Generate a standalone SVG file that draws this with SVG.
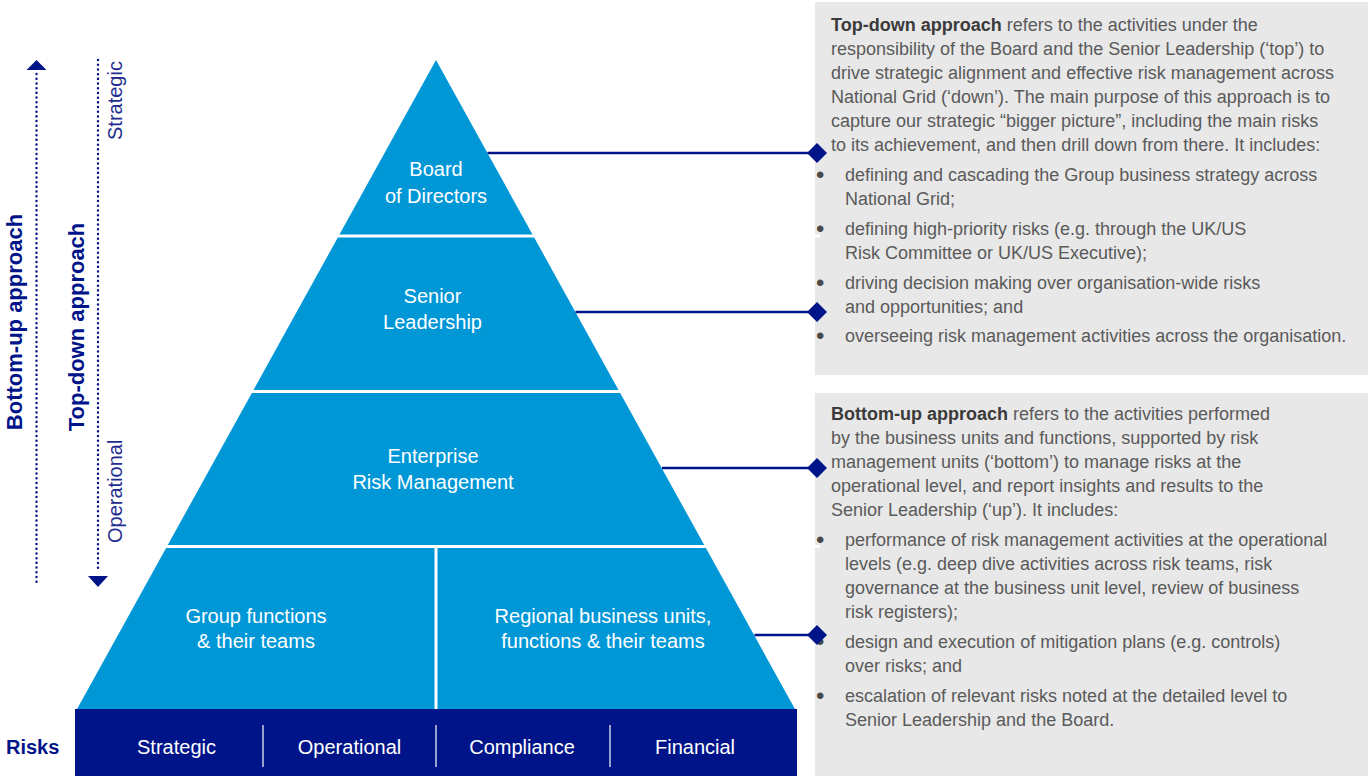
<svg xmlns="http://www.w3.org/2000/svg" width="1368" height="776" viewBox="0 0 1368 776">
<style>
.box{fill:#e8e8e8}
.tier{fill:#0097d7}
.gap{stroke:#ffffff;stroke-width:3;fill:none}
.plab{font-family:"Liberation Sans",Arial,sans-serif;font-size:20px;fill:#ffffff;text-anchor:middle}
.blab{font-family:"Liberation Sans",Arial,sans-serif;font-size:20px;fill:#ffffff;text-anchor:middle}
.navybold{font-family:"Liberation Sans",Arial,sans-serif;font-size:22px;font-weight:bold;fill:#001489;text-anchor:middle}
.navylight{font-family:"Liberation Sans",Arial,sans-serif;font-size:20px;fill:#1f2d8f}
.dots{stroke:#001489;stroke-width:2.4;stroke-linecap:round;stroke-dasharray:0.1 4.6;fill:none}
.conn{stroke:#001489;stroke-width:2.7;fill:none}
.dia{fill:#001489}
.body{font-family:"Liberation Sans",Arial,sans-serif;font-size:18px;fill:#5a5a5a}
.body tspan.b{font-weight:bold;fill:#3a3a3a}
.body tspan.bul{font-size:24px;fill:#4a4a4a}
</style>

<g id="topdown-box">
<rect class="box" x="815" y="2" width="553" height="373"/>
<text class="body">
<tspan x="831" y="31"><tspan class="b">Top-down approach</tspan> refers to the activities under the</tspan>
<tspan x="831" y="55">responsibility of the Board and the Senior Leadership (‘top’) to</tspan>
<tspan x="831" y="79">drive strategic alignment and effective risk management across</tspan>
<tspan x="831" y="103">National Grid (‘down’). The main purpose of this approach is to</tspan>
<tspan x="831" y="127">capture our strategic “bigger picture”, including the main risks</tspan>
<tspan x="831" y="151">to its achievement, and then drill down from there. It includes:</tspan>
<tspan class="bul" x="816" y="183">•</tspan><tspan x="845" y="181">defining and cascading the Group business strategy across</tspan>
<tspan x="845" y="205">National Grid;</tspan>
<tspan class="bul" x="816" y="237">•</tspan><tspan x="845" y="235">defining high-priority risks (e.g. through the UK/US</tspan>
<tspan x="845" y="259">Risk Committee or UK/US Executive);</tspan>
<tspan class="bul" x="816" y="291">•</tspan><tspan x="845" y="289">driving decision making over organisation-wide risks</tspan>
<tspan x="845" y="313">and opportunities; and</tspan>
<tspan class="bul" x="816" y="344">•</tspan><tspan x="845" y="342">overseeing risk management activities across the organisation.</tspan>
</text>
</g>

<g id="bottomup-box">
<rect class="box" x="815" y="393" width="553" height="383"/>
<text class="body">
<tspan x="831" y="420"><tspan class="b">Bottom-up approach</tspan> refers to the activities performed</tspan>
<tspan x="831" y="444">by the business units and functions, supported by risk</tspan>
<tspan x="831" y="468">management units (‘bottom’) to manage risks at the</tspan>
<tspan x="831" y="492">operational level, and report insights and results to the</tspan>
<tspan x="831" y="516">Senior Leadership (‘up’). It includes:</tspan>
<tspan class="bul" x="816" y="548">•</tspan><tspan x="845" y="546">performance of risk management activities at the operational</tspan>
<tspan x="845" y="570">levels (e.g. deep dive activities across risk teams, risk</tspan>
<tspan x="845" y="594">governance at the business unit level, review of business</tspan>
<tspan x="845" y="618">risk registers);</tspan>
<tspan class="bul" x="816" y="650">•</tspan><tspan x="845" y="648">design and execution of mitigation plans (e.g. controls)</tspan>
<tspan x="845" y="672">over risks; and</tspan>
<tspan class="bul" x="816" y="704">•</tspan><tspan x="845" y="702">escalation of relevant risks noted at the detailed level to</tspan>
<tspan x="845" y="726">Senior Leadership and the Board.</tspan>
</text>
</g>

<g id="pyramid">
<polygon class="tier" points="436,60 795.5,710 76.5,710"/>
<line class="gap" x1="60" y1="236" x2="820" y2="236"/>
<line class="gap" x1="60" y1="391.5" x2="820" y2="391.5"/>
<line class="gap" x1="60" y1="546.5" x2="820" y2="546.5"/>
<line class="gap" x1="436" y1="546" x2="436" y2="710"/>
</g>

<g id="board">
<text class="plab"><tspan x="436" y="176">Board</tspan><tspan x="436" y="203">of Directors</tspan></text>
</g>
<g id="senior-leadership">
<text class="plab"><tspan x="432.5" y="303">Senior</tspan><tspan x="432.5" y="329">Leadership</tspan></text>
</g>
<g id="erm">
<text class="plab"><tspan x="433" y="463">Enterprise</tspan><tspan x="433" y="489">Risk Management</tspan></text>
</g>
<g id="group-functions">
<text class="plab"><tspan x="256" y="623">Group functions</tspan><tspan x="256" y="648">&amp; their teams</tspan></text>
</g>
<g id="regional-units">
<text class="plab"><tspan x="603" y="623">Regional business units,</tspan><tspan x="603" y="648">functions &amp; their teams</tspan></text>
</g>

<g id="risks-bar">
<rect x="75" y="709" width="722" height="67" fill="#001489"/>
<line x1="263" y1="725" x2="263" y2="767" stroke="#ffffff" stroke-width="1.2"/>
<line x1="436" y1="725" x2="436" y2="767" stroke="#ffffff" stroke-width="1.2"/>
<line x1="610" y1="725" x2="610" y2="767" stroke="#ffffff" stroke-width="1.2"/>
<text class="blab" x="176.5" y="754">Strategic</text>
<text class="blab" x="349.5" y="754">Operational</text>
<text class="blab" x="522" y="754">Compliance</text>
<text class="blab" x="695" y="754">Financial</text>
<text x="6" y="754" font-family="Liberation Sans, Arial, sans-serif" font-size="20" font-weight="bold" fill="#001489">Risks</text>
</g>

<g id="bottomup-axis">
<line class="dots" x1="36.5" y1="74" x2="36.5" y2="586"/>
<polygon class="dia" points="26.5,70 46.5,70 36.5,60"/>
<text class="navybold" transform="translate(22,322) rotate(-90)">Bottom-up approach</text>
</g>

<g id="topdown-axis">
<line class="dots" x1="98" y1="60" x2="98" y2="572"/>
<polygon class="dia" points="88,576 108,576 98,587"/>
<text class="navybold" transform="translate(84,327) rotate(-90)">Top-down approach</text>
<text class="navylight" transform="translate(122,140) rotate(-90)">Strategic</text>
<text class="navylight" transform="translate(122,543) rotate(-90)">Operational</text>
</g>

<g id="connectors">
<line class="conn" x1="487.5" y1="153" x2="812" y2="153"/>
<polygon class="dia" points="817,143 827,153 817,163 807,153"/>
<line class="conn" x1="575.5" y1="312" x2="812" y2="312"/>
<polygon class="dia" points="817,302 827,312 817,322 807,312"/>
<line class="conn" x1="662" y1="468" x2="812" y2="468"/>
<polygon class="dia" points="817,458 827,468 817,478 807,468"/>
<line class="conn" x1="754.5" y1="635" x2="812" y2="635"/>
<polygon class="dia" points="817,625 827,635 817,645 807,635"/>
</g>
</svg>
